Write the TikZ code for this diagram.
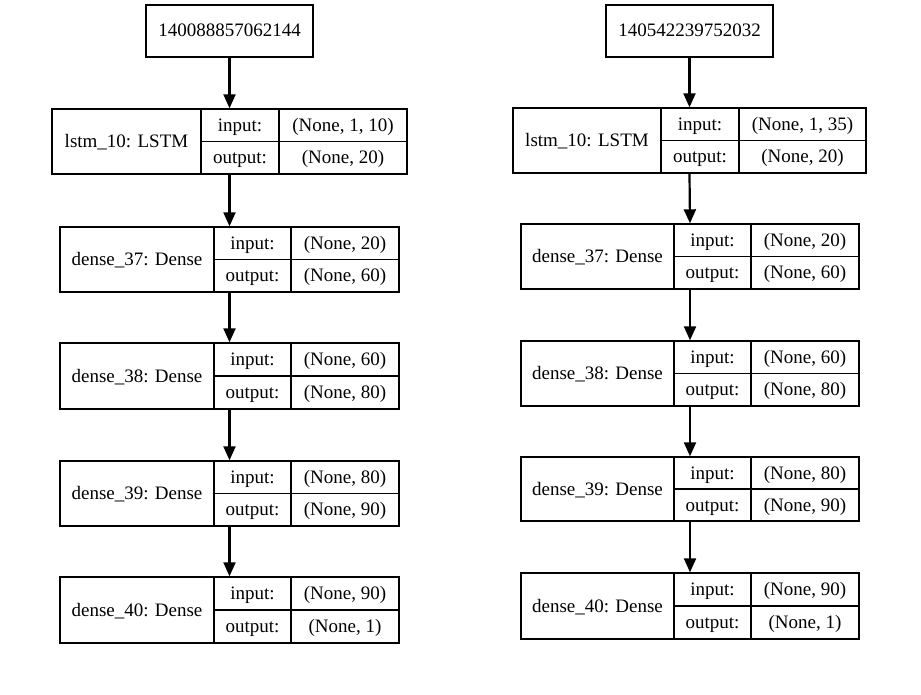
\documentclass[tikz,border=0pt]{standalone}
\usepackage{fontspec}
\setmainfont{Liberation Serif}
\usetikzlibrary{arrows.meta}
\tikzset{
  box/.style={draw, line width=1.4pt, inner sep=0pt},
  cellline/.style={line width=1.4pt},
  txt/.style={inner sep=0pt, font=\fontsize{19}{22}\selectfont, text height=15pt, text depth=3pt},
  arr/.style={line width=2.2pt, -{Triangle[length=14pt,width=12pt]}},
}
% #1 name, #2 xl, #3 xs1, #4 xs2, #5 xr, #6 yt, #7 yb, #8 label, #9 input value
\newcommand\mylay[9]{%
  \node[box, minimum width={(#5-#2)*1pt}, minimum height={(#7-#6)*1pt}] (#1) at ({(#2+#5)/2},{(#6+#7)/2}) {};
  \draw[cellline] (#3,#6) -- (#3,#7);
  \draw[cellline] (#4,#6) -- (#4,#7);
  \draw[cellline] (#3,{(#6+#7)/2}) -- (#5,{(#6+#7)/2});
  \node[txt] (#1-l) at ({(#2+#3)/2},{(#6+#7)/2}) {#8};
  \node[txt] (#1-i) at ({(#3+#4)/2},{(3*#6+#7)/4}) {input:};
  \node[txt] (#1-o) at ({(#3+#4)/2},{(#6+3*#7)/4}) {output:};
  \node[txt] (#1-iv) at ({(#4+#5)/2},{(3*#6+#7)/4}) {#9};
  \coordinate (#1-ov) at ({(#4+#5)/2},{(#6+3*#7)/4});
}
\begin{document}
\begin{tikzpicture}[x=1pt,y=-1pt]
\useasboundingbox (0,0) rectangle (921,695);
% ---------- left column ----------
\node[box, txt, minimum width=167pt, minimum height=52pt] (tL) at (229.5,31) {140088857062144};
\mylay{aL}{52}{201}{279}{407}{109}{174}{lstm\_10: LSTM}{(None, 1, 10)}
\node[txt] (aL-ovt) at (aL-ov) {(None, 20)};
\mylay{bL}{60}{214}{291}{399}{227}{292}{dense\_37: Dense}{(None, 20)}
\node[txt] (bL-ovt) at (bL-ov) {(None, 60)};
\mylay{cL}{60}{214}{291}{399}{343}{409}{dense\_38: Dense}{(None, 60)}
\node[txt] (cL-ovt) at (cL-ov) {(None, 80)};
\mylay{dL}{60}{214}{291}{399}{461}{526}{dense\_39: Dense}{(None, 80)}
\node[txt] (dL-ovt) at (dL-ov) {(None, 90)};
\mylay{eL}{60}{214}{291}{399}{577}{643}{dense\_40: Dense}{(None, 90)}
\node[txt] (eL-ovt) at (eL-ov) {(None, 1)};
\draw[arr] (tL.south) -- (aL.north);
\draw[arr] (aL.south) -- (bL.north);
\draw[arr] (bL.south) -- (cL.north);
\draw[arr] (cL.south) -- (dL.north);
\draw[arr] (dL.south) -- (eL.north);
% ---------- right column ----------
\node[box, txt, minimum width=167pt, minimum height=52pt] (tR) at (689.5,31) {140542239752032};
\mylay{aR}{513}{661}{739}{866}{108}{173}{lstm\_10: LSTM}{(None, 1, 35)}
\node[txt] (aR-ovt) at (aR-ov) {(None, 20)};
\mylay{bR}{521}{674}{751}{859}{224}{289}{dense\_37: Dense}{(None, 20)}
\node[txt] (bR-ovt) at (bR-ov) {(None, 60)};
\mylay{cR}{521}{674}{751}{859}{341}{406}{dense\_38: Dense}{(None, 60)}
\node[txt] (cR-ovt) at (cR-ov) {(None, 80)};
\mylay{dR}{521}{674}{751}{859}{457}{521}{dense\_39: Dense}{(None, 80)}
\node[txt] (dR-ovt) at (dR-ov) {(None, 90)};
\mylay{eR}{521}{674}{751}{859}{573}{639}{dense\_40: Dense}{(None, 90)}
\node[txt] (eR-ovt) at (eR-ov) {(None, 1)};
\draw[arr] (tR.south) -- (aR.north);
\draw[arr] (aR.south) -- (bR.north);
\draw[arr] (bR.south) -- (cR.north);
\draw[arr] (cR.south) -- (dR.north);
\draw[arr] (dR.south) -- (eR.north);
\end{tikzpicture}
\end{document}
